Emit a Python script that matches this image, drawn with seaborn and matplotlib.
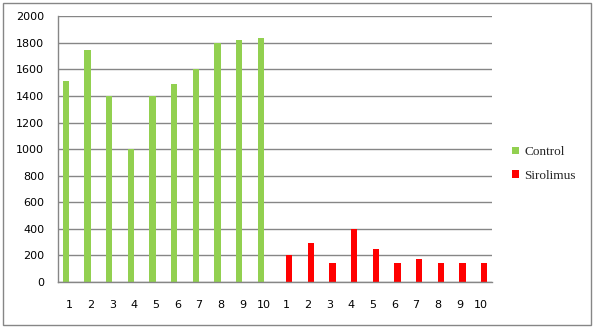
import matplotlib
matplotlib.use("Agg")
import matplotlib.pyplot as plt
import seaborn as sns
import pandas as pd
from matplotlib.patches import Patch, Rectangle

categories = ["1", "2", "3", "4", "5", "6", "7", "8", "9", "10",
              "1", "2", "3", "4", "5", "6", "7", "8", "9", "10"]
control = [1510, 1750, 1400, 1000, 1400, 1490, 1600, 1800, 1820, 1840,
           0, 0, 0, 0, 0, 0, 0, 0, 0, 0]
sirolimus = [0, 0, 0, 0, 0, 0, 0, 0, 0, 0,
             205, 295, 145, 400, 245, 145, 175, 145, 140, 145]
series = ["Control", "Sirolimus"]
colors = ["#92D050", "#FF0000"]
yticks = [0, 200, 400, 600, 800, 1000, 1200, 1400, 1600, 1800, 2000]

rows = []
for i in range(len(categories)):
    rows.append({"pos": i, "series": "Control", "value": control[i]})
    rows.append({"pos": i, "series": "Sirolimus", "value": sirolimus[i]})
df = pd.DataFrame(rows)

sns.set_style("white")
plt.rcParams["font.family"] = ["DejaVu Sans"]

W, H = 594, 329
fig = plt.figure(figsize=(W / 100, H / 100), dpi=100)
ax = fig.add_axes([58 / W, 1 - 282 / H, (492 - 58) / W, (282 - 16.3) / H])

sns.barplot(data=df, x="pos", y="value", hue="series", hue_order=series,
            palette=colors, width=0.58, linewidth=0, saturation=1,
            legend=False, ax=ax, errorbar=None)

grey = "#868686"
ax.set_xlim(-0.5, len(categories) - 0.5)
ax.set_ylim(0, 2000)
ax.set_yticks(yticks)
ax.set_yticklabels([str(v) for v in yticks])
ax.set_xticks(range(len(categories)))
ax.set_xticklabels(categories)
ax.set_xticks([i - 0.5 for i in range(len(categories) + 1)], minor=True)
ax.tick_params(axis="x", which="major", length=0, pad=13, labelsize=8, colors="black")
ax.tick_params(axis="x", which="minor", length=5, width=1, color=grey, direction="out")
ax.tick_params(axis="y", which="major", length=4, width=1, color=grey, pad=6, labelsize=8,
               labelcolor="black", direction="out")
ax.set_xlabel("")
ax.set_ylabel("")
for s in ["top", "right"]:
    ax.spines[s].set_visible(False)
for s in ["left", "bottom"]:
    ax.spines[s].set_color(grey)
    ax.spines[s].set_linewidth(1)
ax.yaxis.grid(True, color=grey, linewidth=1)
ax.set_axisbelow(True)
ax.set_facecolor("white")

handles = [Patch(facecolor=c, edgecolor="none", label=s) for s, c in zip(series, colors)]
fig.legend(handles=handles, loc="center left", bbox_to_anchor=(512 / W, 1 - 164 / H),
           frameon=False, prop={"family": "Liberation Serif", "size": 9.5},
           handlelength=0.5, handleheight=0.5, handletextpad=0.45,
           labelspacing=0.85, borderpad=0, borderaxespad=0)

fig.patches.append(Rectangle((3 / W, 1 - 325 / H), (591 - 3) / W, (325 - 3) / H,
                             transform=fig.transFigure, fill=False,
                             edgecolor=grey, linewidth=1))

fig.savefig("out.png", dpi=100)
